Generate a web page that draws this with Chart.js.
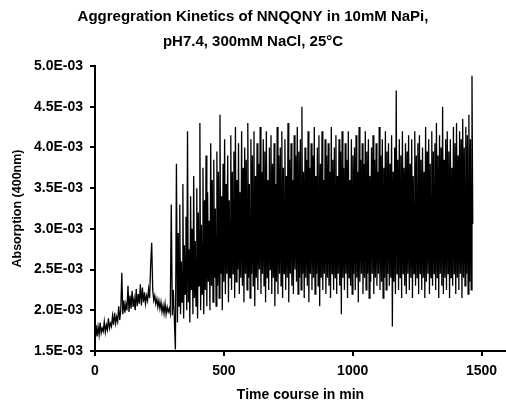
<!DOCTYPE html>
<html>
<head>
<meta charset="utf-8">
<script src="https://cdn.jsdelivr.net/npm/chart.js@4"></script>
<style>
  html, body { margin: 0; padding: 0; background: #fff; }
  #wrap { width: 506px; height: 406px; }
</style>
</head>
<body>
<div id="wrap"><canvas id="kinetics" width="506" height="406"></canvas></div>
<script>
// absorption values are in units of 1E-03
// early part: one reading every 4 min from 0 min
const EARLY_STEP = 4;
const earlyAbs = [
  1.60, 1.82, 1.68, 1.80, 1.70, 1.85, 1.72, 1.78,
  1.74, 1.86, 1.73, 1.82, 1.76, 1.90, 1.78, 1.84,
  1.80, 1.93, 1.82, 1.97, 1.84, 1.92, 1.86, 2.05,
  1.88, 2.00, 2.46, 1.95, 2.12, 1.97, 2.08, 2.00,
  2.30, 1.98, 2.18, 2.02, 2.24, 2.04, 2.14, 2.00,
  2.26, 2.05, 2.20, 2.08, 2.32, 2.06, 2.28, 2.10,
  2.22, 2.08, 2.18, 2.12, 2.26, 2.15, 2.56, 2.83,
  2.25, 2.12, 2.18, 2.08, 2.14, 2.04, 2.12, 2.02,
  2.10, 1.98, 2.06, 1.96, 2.08, 1.95, 2.04, 1.98,
  2.02, 1.96, 3.30, 1.94, 2.25, 1.88, 1.52, 3.80
];

// aggregation phase: one reading every 3 min from 320 min
const LATE_START = 320;
const LATE_STEP = 3;
const lateAbs = [
  1.85, 2.95, 2.05, 3.30, 1.95, 2.60, 2.10, 3.55, 1.90, 2.80, 2.20, 3.15,
  2.00, 4.20, 2.10, 2.75, 1.85, 3.40, 2.25, 3.00, 1.95, 3.65, 2.15, 2.85,
  2.05, 3.50, 1.90, 3.20, 2.30, 4.30, 2.00, 3.05, 2.20, 3.75, 1.95, 3.35,
  2.25, 3.90, 2.05, 3.45, 2.35, 3.10, 2.00, 4.05, 2.30, 3.60, 2.10, 3.85,
  2.40, 3.25, 2.05, 3.95, 2.30, 3.70, 2.15, 4.40, 2.45, 3.40, 2.00, 3.80,
  2.35, 4.10, 2.20, 3.55, 2.45, 3.90, 2.10, 3.35, 2.40, 4.15, 2.25, 3.70,
  2.45, 3.95, 2.15, 4.25, 2.35, 3.60, 2.50, 4.05, 2.20, 3.45, 2.40, 4.20,
  2.30, 3.75, 2.10, 4.00, 2.45, 3.85, 2.25, 4.30, 2.40, 3.55, 2.15, 4.10,
  2.45, 3.90, 2.30, 4.20, 2.05, 3.65, 2.40, 4.05, 2.25, 3.80, 2.50, 4.25,
  2.20, 3.70, 2.45, 4.10, 2.30, 3.95, 2.10, 4.20, 2.40, 3.60, 2.25, 4.00,
  2.50, 4.15, 2.20, 3.80, 2.40, 4.05, 2.05, 3.55, 2.35, 4.25, 2.20, 3.90,
  2.45, 4.00, 2.30, 4.20, 2.15, 3.75, 2.45, 4.10, 2.25, 3.65, 2.40, 4.30,
  2.10, 3.85, 2.45, 4.05, 2.30, 3.60, 2.20, 4.15, 2.50, 3.90, 2.35, 4.25,
  2.20, 3.95, 2.40, 4.10, 2.25, 4.50, 2.45, 3.70, 2.15, 4.00, 2.40, 3.85,
  2.30, 4.20, 2.10, 3.75, 2.45, 4.05, 2.25, 3.90, 2.40, 4.25, 2.20, 3.65,
  2.45, 4.00, 2.30, 4.15, 2.05, 3.80, 2.40, 4.20, 2.25, 3.60, 2.45, 4.10,
  2.20, 3.90, 2.40, 4.05, 2.30, 3.70, 2.15, 4.25, 2.45, 3.85, 2.25, 4.00,
  2.40, 4.15, 2.20, 3.65, 2.45, 4.10, 2.30, 3.95, 1.95, 4.20, 2.40, 3.75,
  2.25, 4.05, 2.45, 3.85, 2.15, 4.20, 2.40, 3.60, 2.30, 4.10, 2.20, 3.90,
  2.45, 4.00, 2.25, 4.15, 2.40, 3.70, 2.10, 4.25, 2.35, 3.85, 2.45, 4.05,
  2.20, 3.80, 2.40, 4.20, 2.25, 3.95, 2.45, 4.10, 2.15, 3.65, 2.35, 4.00,
  2.45, 4.15, 2.20, 3.85, 2.40, 4.05, 2.30, 3.70, 2.45, 4.25, 2.25, 3.90,
  2.35, 4.10, 2.15, 3.75, 2.40, 4.20, 2.25, 3.95, 2.45, 4.05, 2.30, 3.80,
  2.40, 4.15, 1.80, 3.70, 2.35, 4.00, 2.20, 4.70, 2.45, 3.85, 2.25, 4.10,
  2.40, 3.90, 2.15, 4.20, 2.45, 3.75, 2.30, 4.05, 2.20, 3.95, 2.45, 4.15,
  2.25, 3.80, 2.40, 4.10, 2.15, 3.65, 2.45, 4.20, 2.30, 3.90, 2.40, 4.05,
  2.20, 4.15, 2.45, 3.85, 2.25, 4.00, 2.40, 3.70, 2.15, 4.25, 2.35, 3.95,
  2.45, 4.10, 2.20, 3.80, 2.40, 4.20, 2.30, 3.95, 2.45, 4.05, 2.25, 4.30,
  2.40, 3.90, 2.15, 4.15, 2.45, 4.00, 2.30, 4.50, 2.20, 3.85, 2.40, 4.10,
  2.25, 4.20, 2.45, 3.95, 2.15, 4.10, 2.40, 3.75, 2.30, 4.25, 2.45, 4.05,
  2.20, 4.30, 2.40, 3.90, 2.25, 4.20, 2.45, 4.10, 2.15, 4.35, 2.40, 4.00,
  2.30, 4.25, 2.45, 4.15, 2.20, 4.40, 2.35, 4.10, 2.25, 4.88, 3.06
];

const xTicks = [0, 500, 1000, 1500];
const yTicks = [1.5, 2.0, 2.5, 3.0, 3.5, 4.0, 4.5, 5.0];

var points = [];
earlyAbs.forEach((v, i) => {
  points.push({ x: i * EARLY_STEP, y: v });
});
lateAbs.forEach((v, i) => {
  points.push({ x: LATE_START + i * LATE_STEP, y: v });
});

const FONT = "Liberation Sans, Arial, sans-serif";
const ctx = document.getElementById("kinetics").getContext("2d");

new Chart(ctx, {
  type: "line",
  data: {
    datasets: [
      {
        label: "Absorption",
        data: points,
        borderColor: "#000",
        borderWidth: 1.3,
        pointRadius: 0,
        fill: false,
        tension: 0,
      },
    ],
  },
  options: {
    responsive: false,
    animation: false,
    devicePixelRatio: 1,
    layout: { padding: 0 },
    plugins: {
      legend: { display: false },
      tooltip: { enabled: false },
      title: {
        display: true,
        text: ["Aggregration Kinetics of NNQQNY in 10mM NaPi,", "pH7.4, 300mM NaCl, 25\u00B0C"],
        color: "#000",
        font: { family: FONT, size: 15, weight: "bold", lineHeight: 1.667 },
        padding: { top: 4.5, bottom: 11.5 },
      },
    },
    scales: {
      x: {
        type: "linear",
        min: 0,
        max: 1595,
        afterFit: (scale) => { scale.height = 55; },
        afterBuildTicks: (scale) => {
          scale.ticks = xTicks.map((v) => ({ value: v }));
        },
        grid: { display: true, drawOnChartArea: false, drawTicks: true, tickLength: 5, color: "#000", lineWidth: 2 },
        border: { display: true, color: "#000", width: 2 },
        ticks: {
          color: "#000",
          padding: 7,
          maxRotation: 0,
          font: { family: FONT, size: 14, weight: "bold" },
          callback: (v) => String(v),
        },
        title: {
          display: true,
          text: "Time course in min",
          color: "#000",
          padding: { top: 0, bottom: 2.6 },
          font: { family: FONT, size: 14, weight: "bold" },
        },
      },
      y: {
        min: 1.5,
        max: 5.0,
        afterFit: (scale) => { scale.width = 95; },
        afterBuildTicks: (scale) => {
          scale.ticks = yTicks.map((v) => ({ value: v }));
        },
        grid: { display: true, drawOnChartArea: false, drawTicks: true, tickLength: 5, color: "#000", lineWidth: 2 },
        border: { display: true, color: "#000", width: 2 },
        ticks: {
          color: "#000",
          padding: 7,
          font: { family: FONT, size: 14, weight: "bold" },
          callback: (v) => v.toFixed(1) + "E-03",
        },
        title: {
          display: true,
          text: "Absorption (400nm)",
          color: "#000",
          padding: { top: 10, bottom: 0 },
          font: { family: FONT, size: 12.5, weight: "bold" },
        },
      },
    },
  },
});
</script>
</body>
</html>
